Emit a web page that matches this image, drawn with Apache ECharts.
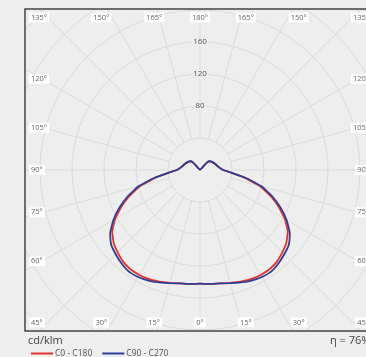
<!DOCTYPE html>
<html>
<head>
<meta charset="utf-8">
<script src="https://cdn.jsdelivr.net/npm/echarts@6/dist/echarts.min.js"></script>
<style>
  html, body { margin: 0; padding: 0; background: #eeeeee; }
  #chart { width: 366px; height: 357px; }
</style>
</head>
<body>
<div id="chart"></div>
<script>
// gamma angles (deg from nadir), 5° steps
const gammaAngles = [0, 5, 10, 15, 20, 25, 30, 35, 40, 45, 50, 55, 60, 65, 70, 75, 80, 85, 90,
    95, 100, 105, 110, 115, 120, 125, 130, 135, 140, 145, 150, 155, 160, 165, 170, 175, 180];
// intensity, cd/klm
const c0c180 = [142, 143, 144, 146, 148.5, 150.5, 151.5, 151.5, 149.5, 145.5, 141, 134, 122.5, 108.5, 93.5, 77.5, 57, 39, 29,
    25.5, 23, 21.5, 20.5, 19.5, 18.5, 17.5, 16.5, 15, 0, 0, 0, 0, 0, 0, 0, 0, 0];
const c90c270 = [142, 143, 144, 146.5, 149.5, 152.5, 154.5, 155, 152.5, 149, 145, 137, 125, 111, 96, 80, 59, 40, 29,
    25.5, 23.3, 22, 21, 20, 19, 18, 17, 15.5, 0, 0, 0, 0, 0, 0, 0, 0, 0];
const seriesNames = ['C0 - C180', 'C90 - C270'];
const ringLabels = [80, 120, 160];
const angleTicks = [0, 15, 30, 45, 60, 75, 90, 105, 120, 135, 150, 165, 180];

const CX = 200, CY = 170;
const R_MAX = 340, R_PX = 272;          // 0.8 px per cd
const SCALE = R_PX / R_MAX;
const FRAME = { x: 25, y: 9, w: 350, h: 322 };
const BG = '#eeeeee';
const GRID = '#dcdcdc';

// mirror one C-plane pair into [r, angle] points over -180..180
function planePoints(values) {
    const pts = [];
    for (let i = gammaAngles.length - 1; i > 0; i--) pts.push([values[i], -gammaAngles[i]]);
    for (let i = 0; i < gammaAngles.length; i++) pts.push([values[i], gammaAngles[i]]);
    return pts;
}

// angle labels sit along the frame
function angleLabel(a, side) {
    const rad = a * Math.PI / 180;
    const base = {
        text: a + '°', fill: '#666', font: '7.5px "Open Sans", sans-serif',
        backgroundColor: '#ffffff', padding: [1, 2], verticalAlign: 'middle'
    };
    const leftX = 29, rightX = 371, topY = 17.5, botY = 322.5;
    if (a === 45 || a === 135) {
        return Object.assign(base, { x: side < 0 ? leftX : rightX, y: a === 45 ? botY : topY,
            align: side < 0 ? 'left' : 'right' });
    }
    if (a < 45 || a > 135) {
        const t = Math.abs(Math.tan(rad));
        return Object.assign(base, { x: CX + side * 171 * t, y: a < 45 ? botY : topY, align: 'center' });
    }
    const off = 158 / Math.tan(rad);
    return Object.assign(base, { x: side < 0 ? leftX : rightX, y: CY + off, align: side < 0 ? 'left' : 'right' });
}

const graphics = [
    // clip everything outside the frame
    { type: 'rect', z: 10, shape: { x: 0, y: 0, width: 366, height: FRAME.y }, style: { fill: BG } },
    { type: 'rect', z: 10, shape: { x: 0, y: 0, width: FRAME.x, height: 357 }, style: { fill: BG } },
    { type: 'rect', z: 10, shape: { x: 0, y: FRAME.y + FRAME.h, width: 366, height: 30 }, style: { fill: BG } },
    { type: 'rect', z: 11, shape: { x: FRAME.x, y: FRAME.y, width: FRAME.w, height: FRAME.h },
        style: { fill: null, stroke: '#444', lineWidth: 1.5 } },
    { type: 'text', z: 12, style: { text: 'cd/klm', x: 28, y: 341, fill: '#444', font: '11px "Open Sans", sans-serif', verticalAlign: 'middle' } },
    { type: 'text', z: 12, style: { text: 'η = 76%', x: 330, y: 341, fill: '#444', font: '11px "Open Sans", sans-serif', verticalAlign: 'middle' } }
];
ringLabels.forEach(v => {
    graphics.push({ type: 'text', z: 12, style: { text: String(v), x: CX, y: CY - v * SCALE, align: 'center', verticalAlign: 'middle',
        fill: '#555', font: '8px "Open Sans", sans-serif', backgroundColor: BG, padding: [0, 1] } });
});
angleTicks.forEach(a => {
    graphics.push({ type: 'text', z: 12, style: angleLabel(a, -1) });
    if (a !== 0 && a !== 180) graphics.push({ type: 'text', z: 12, style: angleLabel(a, 1) });
});

const chart = echarts.init(document.getElementById('chart'), null, { renderer: 'canvas' });
chart.setOption({
    backgroundColor: BG,
    animation: false,
    polar: [
        { center: [CX, CY], radius: [40 * SCALE, R_PX] },
        { center: [CX, CY], radius: [0, R_PX] }
    ],
    angleAxis: [
        { polarIndex: 0, type: 'value', min: 0, max: 360, interval: 15, startAngle: 90,
            axisLine: { show: false }, axisTick: { show: false }, axisLabel: { show: false },
            splitLine: { show: true, lineStyle: { color: GRID, width: 1 } } },
        { polarIndex: 1, type: 'value', min: -180, max: 180, startAngle: 90, clockwise: true,
            axisLine: { show: false }, axisTick: { show: false }, axisLabel: { show: false }, splitLine: { show: false } }
    ],
    radiusAxis: [
        { polarIndex: 0, type: 'value', min: 40, max: R_MAX, interval: 40,
            axisLine: { show: false }, axisTick: { show: false }, axisLabel: { show: false },
            splitLine: { show: true, showMinLine: true, lineStyle: { color: GRID, width: 1 } } },
        { polarIndex: 1, type: 'value', min: 0, max: R_MAX,
            axisLine: { show: false }, axisTick: { show: false }, axisLabel: { show: false }, splitLine: { show: false } }
    ],
    legend: {
        z: 20, left: 26, top: 344, icon: 'rect', itemWidth: 22, itemHeight: 2, itemGap: 10,
        textStyle: { fontSize: 8.5, color: '#555', fontFamily: '"Open Sans", sans-serif', padding: [0, 0, 0, -3] },
        data: seriesNames
    },
    series: [
        { name: seriesNames[0], type: 'line', coordinateSystem: 'polar', polarIndex: 1, showSymbol: false, smooth: 0.1,
            color: '#e8302f', lineStyle: { width: 1.8 }, data: planePoints(c0c180) },
        { name: seriesNames[1], type: 'line', coordinateSystem: 'polar', polarIndex: 1, showSymbol: false, smooth: 0.1,
            color: '#2c3f97', lineStyle: { width: 1.8 }, data: planePoints(c90c270) }
    ],
    graphic: graphics
});
</script>
</body>
</html>
